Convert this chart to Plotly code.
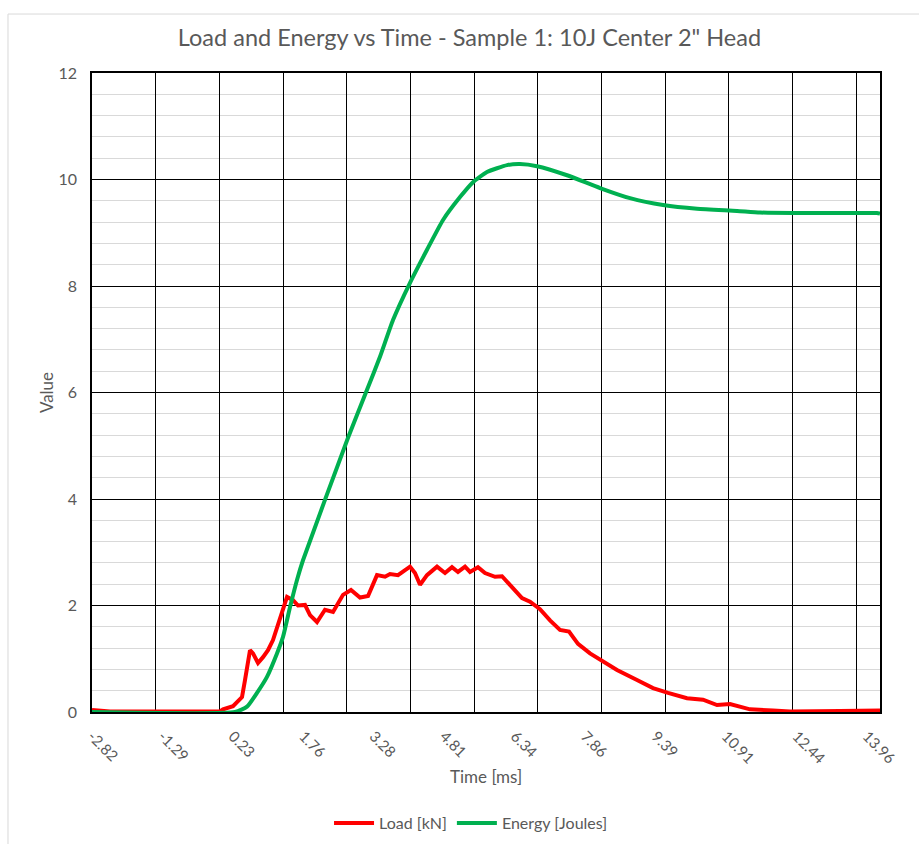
import plotly.graph_objects as go

# Time axis tick labels (ms)
tick_labels = ["-2.82", "-1.29", "0.23", "1.76", "3.28", "4.81", "6.34",
               "7.86", "9.39", "10.91", "12.44", "13.96"]

# Load [kN] vs time [ms]
load_time = [-2.82, -2.647, -2.43, -0.048, 0.017, 0.233, 0.428, 0.493, 0.601,
             0.666, 0.775, 0.883, 0.991, 1.099, 1.251, 1.403, 1.532, 1.641,
             1.792, 1.901, 2.052, 2.225, 2.399, 2.615, 2.788, 2.983, 3.157,
             3.351, 3.525, 3.633, 3.806, 4.066, 4.174, 4.283, 4.434, 4.651,
             4.824, 4.975, 5.105, 5.257, 5.365, 5.538, 5.69, 5.907, 6.058,
             6.275, 6.491, 6.664, 6.881, 7.098, 7.314, 7.509, 7.704, 7.964,
             8.18, 8.548, 8.981, 9.328, 9.653, 10.064, 10.411, 10.714, 10.995,
             11.212, 11.428, 11.926, 12.295, 13.377, 14.243]
load_kn = [0.04, 0.02, 0.01, 0.01, 0.05, 0.11, 0.28, 0.6, 1.16,
           1.1, 0.92, 1.03, 1.16, 1.35, 1.73, 2.16, 2.1, 2.0,
           2.01, 1.82, 1.69, 1.92, 1.88, 2.2, 2.29, 2.15, 2.18,
           2.57, 2.54, 2.59, 2.57, 2.73, 2.61, 2.39, 2.57, 2.73,
           2.61, 2.72, 2.63, 2.73, 2.63, 2.72, 2.61, 2.54, 2.55,
           2.35, 2.14, 2.07, 1.93, 1.72, 1.54, 1.51, 1.28, 1.1,
           0.98, 0.79, 0.6, 0.45, 0.36, 0.26, 0.23, 0.13, 0.15,
           0.1, 0.05, 0.03, 0.01, 0.02, 0.03]

# Energy [J] vs time [ms]
energy_time = [-2.82, 0.277, 0.536, 0.753, 0.969, 1.186, 1.316, 1.468, 1.619,
               1.749, 2.724, 3.135, 3.416, 3.698, 4.066, 4.434, 4.781, 5.149,
               5.43, 5.733, 6.167, 6.448, 6.816, 7.466, 8.18, 8.83, 9.545,
               10.281, 11.147, 11.645, 12.511, 14.178, 14.243]
energy_j = [0.0, 0.0, 0.1, 0.36, 0.66, 1.1, 1.41, 1.97, 2.48,
            2.85, 5.15, 6.05, 6.67, 7.36, 8.06, 8.68, 9.24, 9.67,
            9.95, 10.14, 10.27, 10.29, 10.25, 10.08, 9.84, 9.65, 9.52,
            9.45, 9.41, 9.38, 9.37, 9.37, 9.36]

X_RANGE = [-2.82, 14.243]
GRID_START = -2.82
GRID_STEP = 1.3787

TEXT = "#595959"
FONT = "Lato"

fig = go.Figure()
fig.add_trace(go.Scatter(x=load_time, y=load_kn, mode="lines", name="Load [kN]",
                         line=dict(color="#FF0000", width=4)))
fig.add_trace(go.Scatter(x=energy_time, y=energy_j, mode="lines", name="Energy [Joules]",
                         line=dict(color="#00B050", width=4, shape="spline", smoothing=0.5)))
# empty trace that carries the vertical grid axis
fig.add_trace(go.Scatter(x=[], y=[], xaxis="x2", showlegend=False, hoverinfo="skip"))

fig.update_layout(
    width=919, height=844,
    margin=dict(l=92, r=39, t=73, b=132, autoexpand=False),
    paper_bgcolor="white", plot_bgcolor="white",
    font=dict(family=FONT, color=TEXT, size=16),
    title=dict(text='Load and Energy vs Time - Sample 1: 10J Center 2" Head',
               x=0.479, xanchor="center", xref="paper", y=0.955, yanchor="middle",
               font=dict(size=23.5, color=TEXT, family=FONT)),
    xaxis=dict(
        range=X_RANGE, tickmode="array",
        tickvals=[float(s) for s in tick_labels], ticktext=tick_labels,
        tickangle=45, showgrid=False, zeroline=False, automargin=False,
        showline=True, mirror=True, linecolor="black", linewidth=1.5,
        ticks="", ticklabelstandoff=8, tickfont=dict(size=15, color=TEXT),
    ),
    xaxis2=dict(
        overlaying="x", range=X_RANGE, tickmode="linear",
        tick0=GRID_START, dtick=GRID_STEP, showticklabels=False,
        showgrid=True, gridcolor="black", gridwidth=1.4, zeroline=False,
        ticks="", showline=False, automargin=False,
    ),
    yaxis=dict(
        range=[0, 12], tickmode="linear", tick0=0, dtick=2, automargin=False,
        showgrid=True, gridcolor="black", gridwidth=1.4, zeroline=False,
        showline=True, mirror=True, linecolor="black", linewidth=1.5,
        ticks="", ticklabelstandoff=10, tickfont=dict(size=16, color=TEXT),
        minor=dict(tickmode="linear", tick0=0, dtick=0.4, showgrid=True,
                   gridcolor="#D9D9D9", gridwidth=1.4),
        title=dict(text="Value", font=dict(size=17, color=TEXT), standoff=1),
    ),
    annotations=[dict(text="Time [ms]", xref="paper", yref="paper",
                      x=0.5, y=-0.1002, xanchor="center", yanchor="middle",
                      showarrow=False, font=dict(size=17, color=TEXT))],
    legend=dict(orientation="h", x=0.481, xanchor="center", y=-0.174, yanchor="middle",
                font=dict(size=16, color=TEXT), itemwidth=40),
    showlegend=True,
    shapes=[dict(type="rect", xref="paper", yref="paper",
                 x0=-0.1066, x1=1.08, y0=-0.25, y1=1.0923,
                 line=dict(color="#D9D9D9", width=1), layer="below")],
)

fig.write_html("out.html")
